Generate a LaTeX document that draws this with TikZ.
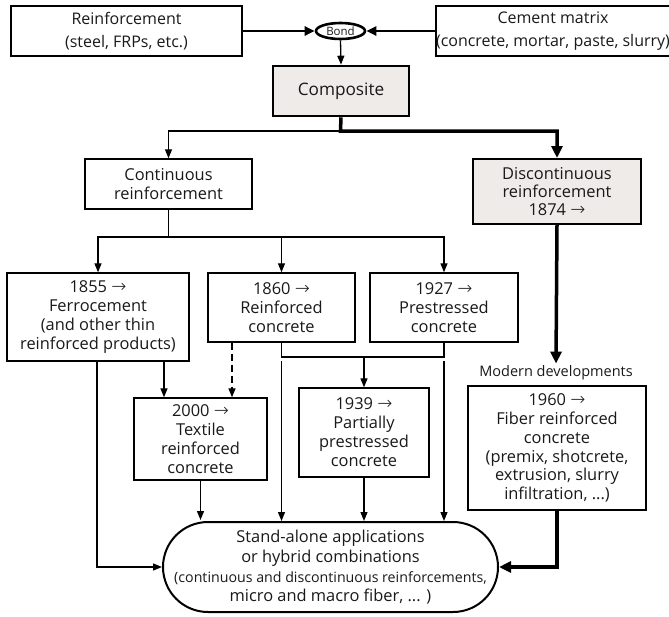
\documentclass[tikz,border=0pt]{standalone}
\usepackage{fontspec}
\setmainfont{Open Sans}
\newfontfamily\arrowfont{DejaVu Sans ExtraLight}
\usetikzlibrary{arrows.meta,shapes.geometric}
\newcommand{\rarr}{{\arrowfont\fontsize{18}{15}\selectfont →}}
\definecolor{boxgray}{RGB}{238,235,232}
\definecolor{txt}{RGB}{25,25,25}
\begin{document}
\begin{tikzpicture}[x=1pt,y=-1pt,
  base/.style={draw, align=center, inner sep=0pt, text=txt, font=\fontsize{16.4}{19}\selectfont},
  thinbox/.style={base, line width=1.4pt},
  thickbox/.style={base, line width=2.6pt},
  topfont/.style={font=\fontsize{16}{23}\selectfont},
  conn/.style={line width=1.3pt},
  arr/.style={conn, -{Triangle[length=9pt,width=7pt]}},
  bigarr/.style={line width=3.5pt, -{Triangle[length=12pt,width=11pt]}},
  toparr/.style={line width=2.6pt, -{Triangle[length=10pt,width=9pt]}}]
\useasboundingbox (0,0) rectangle (669,616);

\node[thickbox, topfont, minimum width=231pt, minimum height=50pt] (reinf) at (126.5,31) {Reinforcement\\(steel, FRPs, etc.)};
\node[thickbox, ellipse, minimum width=49pt, minimum height=16pt, font=\fontsize{11.5}{11.5}\selectfont] (bond) at (340.5,31) {Bond};
\node[thickbox, topfont, minimum width=228pt, minimum height=50pt] (cement) at (553,31) {Cement matrix\\(concrete, mortar, paste, slurry)};
\node[thickbox, fill=boxgray, minimum width=136pt, minimum height=50pt, font=\fontsize{17.2}{19}\selectfont] (comp) at (341,91) {Composite};

\node[thinbox, minimum width=167pt, minimum height=50pt] (cont) at (168.5,184) {Continuous\\reinforcement};
\node[base, line width=2pt, fill=boxgray, minimum width=168pt, minimum height=65pt, font=\fontsize{16.4}{18.4}\selectfont] (disc) at (557,191.5) {Discontinuous\\reinforcement\\1874 \rarr};

\node[thinbox, minimum width=182pt, minimum height=88pt] (ferro) at (98,317) {1855 \rarr\\Ferrocement\\(and other thin\\reinforced products)};
\node[thinbox, minimum width=147pt, minimum height=69pt] (rc) at (281.5,307.5) {1860 \rarr\\Reinforced\\concrete};
\node[thinbox, minimum width=148pt, minimum height=69pt] (ps) at (444,307.5) {1927 \rarr\\Prestressed\\concrete};

\node[thinbox, minimum width=133pt, minimum height=82pt] (trc) at (200.5,439) {2000 \rarr\\Textile\\reinforced\\concrete};
\node[thinbox, minimum width=130pt, minimum height=89pt] (pps) at (364,432.5) {1939 \rarr\\Partially\\prestressed\\concrete};
\node[text=txt, inner sep=2pt, font=\fontsize{14.5}{16}\selectfont] (modern) at (556,373) {Modern developments};
\node[thickbox, minimum width=178pt, minimum height=124pt, font=\fontsize{16.4}{18.8}\selectfont] (frc) at (557,448) {1960 \rarr\\Fiber reinforced\\concrete\\(premix, shotcrete,\\extrusion, slurry\\infiltration, ...)};

\node[base, line width=2pt, rounded corners=45pt, minimum width=335pt, minimum height=90pt] (app) at (330.5,567)
  {Stand-alone applications\\[1.5pt] or hybrid combinations\\[1pt] \fontsize{14.2}{17.5}\selectfont (continuous and discontinuous reinforcements,\\ micro and macro fiber, ... )};

% top connectors
\draw[toparr] (reinf.east) -- (bond.west);
\draw[toparr] (cement.west) -- (bond.east);
\draw[arr] (bond.south) -- (comp.north);

\coordinate (jc) at (340.5,131);
\draw[arr] (jc) -| (cont.north);
\draw[bigarr] (comp.south) -- (jc) -| (disc.north);

% continuous branch
\coordinate (j1) at (168.5,237);
\draw[conn] (cont.south) -- (j1);
\draw[arr] (j1) -| (ferro.north);
\draw[arr] (j1) -| (rc.north);
\draw[arr] (j1) -| (ps.north);

% bracket rc/ps -> pps
\coordinate (j2) at (364,357);
\draw[conn] (rc.south) |- (j2) -| (ps.south);
\draw[arr] (j2) -- (pps.north);

% ferro
\draw[arr] ([xshift=-1pt]ferro.south) |- (app.west);
\draw[arr] ([xshift=66pt]ferro.south) -- ([xshift=-36.5pt]trc.north);
\draw[arr, dashed, dash pattern=on 7pt off 4pt] ([xshift=-49.5pt]rc.south) -- ([xshift=31.5pt]trc.north);

% lines to applications
\coordinate (rcl) at (281.5,361);
\coordinate (psl) at (444,361);
\draw[arr] (rcl) -- (rcl |- app.north);
\draw[arr] (psl) -- (psl |- app.north);
\draw[arr] (trc.south) -- ([yshift=1pt]trc.south |- app.north);
\draw[arr] (pps.south) -- (pps.south |- app.north);

% discontinuous
\draw[bigarr] (disc.south) -- (modern.north);
\draw[bigarr] (frc.south) |- (app.east);
\end{tikzpicture}
\end{document}
